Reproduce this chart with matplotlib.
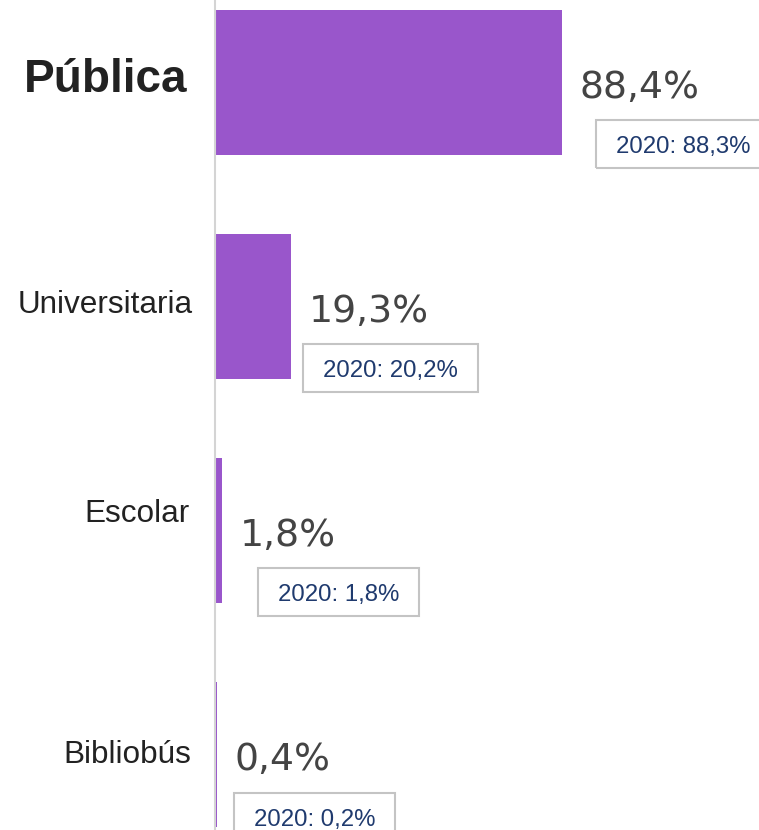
import matplotlib
matplotlib.use("Agg")
import matplotlib.pyplot as plt
from matplotlib.patches import Rectangle
from matplotlib.transforms import IdentityTransform

# Data
categories = ["Pública", "Universitaria", "Escolar", "Bibliobús"]
values_2021 = [88.4, 19.3, 1.8, 0.4]
values_2020 = [88.3, 20.2, 1.8, 0.2]

# Layout nudges (pixels)
label_dx = [-28, -22, -25, -24]
label_dy = [10, 7, -8, 8]
box_dx = [34, 12, 36, 17]


def fmt(v):
    return f"{v:.1f}".replace(".", ",") + "%"


fig = plt.figure(figsize=(7.59, 8.30), dpi=100)
ax = fig.add_axes([215 / 759, 0, 544 / 759, 1])

ypos = list(range(len(categories)))
ax.barh(ypos, values_2021, height=0.648, color="#9956cb")
ax.set_xlim(0, 138.6)
ax.set_ylim(3.337, -0.368)

for s in ["top", "right", "bottom"]:
    ax.spines[s].set_visible(False)
ax.spines["left"].set_color("#d4d4d4")
ax.spines["left"].set_linewidth(1.5)
ax.set_xticks([])
ax.set_yticks([])

box_texts = []
for i, (cat, v, v0) in enumerate(zip(categories, values_2021, values_2020)):
    # category label
    ax.annotate(cat, xy=(0, i), xytext=(label_dx[i], -label_dy[i]),
                textcoords="offset pixels", ha="right", va="baseline",
                family="Liberation Sans", color="#222222",
                fontsize=33 if i == 0 else 22.7,
                weight="bold" if i == 0 else "normal",
                annotation_clip=False)
    # value label
    ax.annotate(fmt(v), xy=(v, i), xytext=(18, -15.5),
                textcoords="offset pixels", ha="left", va="baseline",
                family="DejaVu Sans", fontsize=27.2, color="#444444",
                annotation_clip=False)
    # previous year label
    t = ax.annotate("2020: " + fmt(v0), xy=(v, i), xytext=(box_dx[i] + 20, -71),
                    textcoords="offset pixels", ha="left", va="baseline",
                    family="Liberation Sans", fontsize=17.3, color="#1f3a6e",
                    annotation_clip=False)
    box_texts.append((t, i))

# boxes around the 2020 labels
fig.canvas.draw()
for t, i in box_texts:
    bb = t.get_window_extent()
    cy = ax.transData.transform((0, i))[1] - 62
    fig.add_artist(Rectangle((bb.x0 - 20, cy - 24), bb.width + 40, 48,
                             fill=False, edgecolor="#c4c4c4", linewidth=1.5,
                             transform=IdentityTransform()))

fig.savefig("out.png", dpi=100)
